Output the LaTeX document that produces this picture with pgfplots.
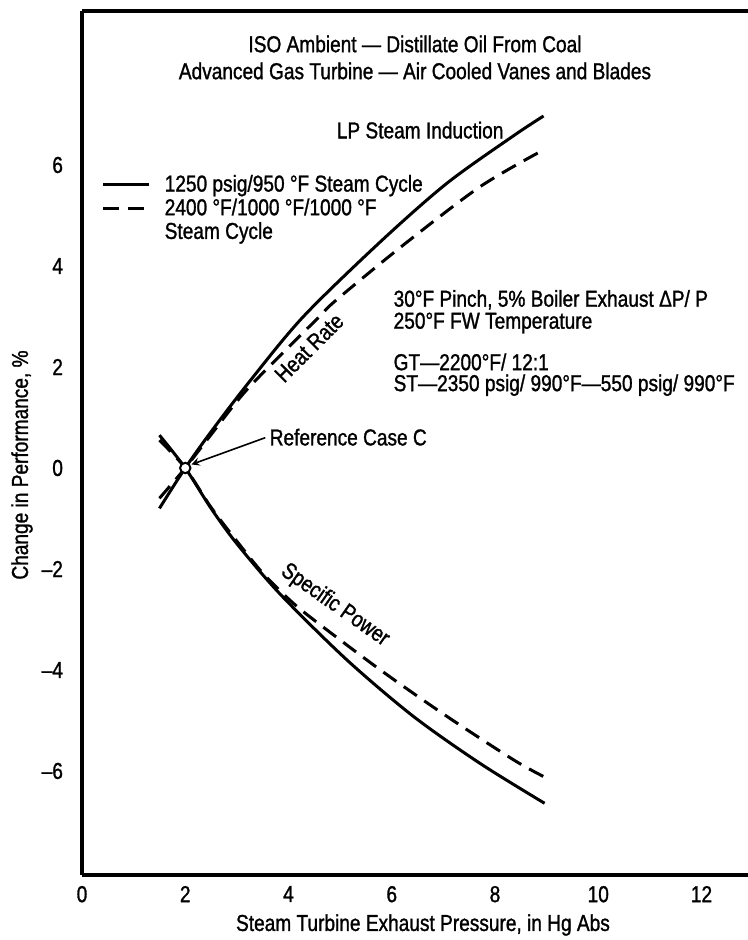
\documentclass[border=0pt]{standalone}
\usepackage{fontspec}
\setmainfont{Liberation Sans}[FakeStretch=0.83, FakeBold=1.2]
\usepackage{pgfplots}
\pgfplotsset{compat=1.18}

\begin{document}
\begin{tikzpicture}[font=\fontsize{11.5}{13.5}\selectfont]
\begin{axis}[
  scale only axis,
  width=333pt, height=432pt,
  xmin=0, xmax=12.9, ymin=-8.06, ymax=9.05,
  axis x line=box, axis y line=left,
  axis line style={line width=1.6pt, -},
  xtick={0,2,...,12},
  ytick={-6,-4,-2,0,2,4,6},
  yticklabels={–6,–4,–2,0,2,4,6},
  major tick length=0pt,
  /pgf/number format/assume math mode=true,
  xticklabel style={yshift=-2pt},
  yticklabel style={xshift=-6pt},
  xlabel={Steam Turbine Exhaust Pressure, in Hg Abs},
  ylabel={Change in Performance, \%},
  every axis x label/.style={at={(axis description cs:0.512,0)}, anchor=center, yshift=-25pt},
  every axis y label/.style={at={(axis description cs:0,0.5)}, xshift=-30pt, yshift=-11pt, rotate=90, anchor=center},
  legend style={at={(axis description cs:0.02,0.82)}, anchor=north west, draw=none, fill=none, row sep=-2pt},
  legend cell align=left,
  legend image code/.code={\draw[#1] (0pt,0pt) -- (23pt,0pt); \path (28pt,0pt);},
  clip=false,
]
% heat rate
\addplot[black, line width=1.5pt, smooth] coordinates {
  (1.5,-0.8) (2,0) (2.48,0.69) (3.22,1.68) (4.28,2.99) (5.78,4.48) (7.07,5.64) (8.36,6.58) (8.94,6.97)};
\addlegendentry{1250 psig/950 °F Steam Cycle}
\addplot[black, line width=1.5pt, smooth, dash pattern=on 8pt off 4.5pt] coordinates {
  (1.5,-0.6) (2,0) (2.5,0.66) (3.22,1.58) (4.55,2.95) (4.93,3.33) (6.23,4.42) (7.71,5.57) (8.94,6.30)};
\addlegendentry{2400 °F/1000 °F/1000 °F}
\addlegendimage{empty legend}
\addlegendentry{Steam Cycle}
% specific power
\addplot[black, line width=1.5pt, smooth, forget plot] coordinates {
  (1.5,0.65) (2,0) (2.5,-0.8) (3,-1.5) (3.84,-2.5) (5.13,-3.8) (6.42,-4.92) (7.71,-5.85) (8.96,-6.64)};
\addplot[black, line width=1.5pt, smooth, dash pattern=on 8pt off 4.5pt, forget plot] coordinates {
  (1.5,0.55) (2,0) (2.5,-0.78) (3,-1.45) (3.5,-2.08) (4.03,-2.62) (4.48,-3.0) (5.78,-4.0) (7.07,-4.92) (8.36,-5.78) (8.94,-6.11)};
% reference case
\addplot[only marks, mark=*, mark size=2.6pt, mark options={fill=white, draw=black, line width=1pt}, forget plot] coordinates {(2,0)};

\node[align=center] at (axis cs:6.45,8.13) {ISO Ambient — Distillate Oil From Coal\\Advanced Gas Turbine — Air Cooled Vanes and Blades};
\node at (axis cs:6.55,6.69) {LP Steam Induction};
\node[anchor=west] at (axis cs:5.9,3.33) {30°F Pinch, 5\% Boiler Exhaust ΔP/ P};
\node[anchor=west] at (axis cs:5.9,2.87) {250°F FW Temperature};
\node[anchor=west] at (axis cs:5.9,2.10) {GT—2200°F/ 12:1};
\node[anchor=west] at (axis cs:5.9,1.64) {ST—2350 psig/ 990°F—550 psig/ 990°F};
\node[anchor=west] at (axis cs:3.5,0.61) {Reference Case C};
\draw[-stealth, line width=0.8pt] (axis cs:3.55,0.6) -- (axis cs:2.12,0.07);
\node[rotate=45] at (axis cs:4.4,2.38) {Heat Rate};
\node[rotate=-35] at (axis cs:4.9,-2.72) {Specific Power};

\coordinate (bl) at (rel axis cs:0,0);
\coordinate (tr) at (rel axis cs:1,1);
\end{axis}
\pgfresetboundingbox
\path[use as bounding box] ([xshift=-41pt,yshift=-32.5pt]bl) rectangle ([yshift=5.5pt]tr);
\end{tikzpicture}
\end{document}
